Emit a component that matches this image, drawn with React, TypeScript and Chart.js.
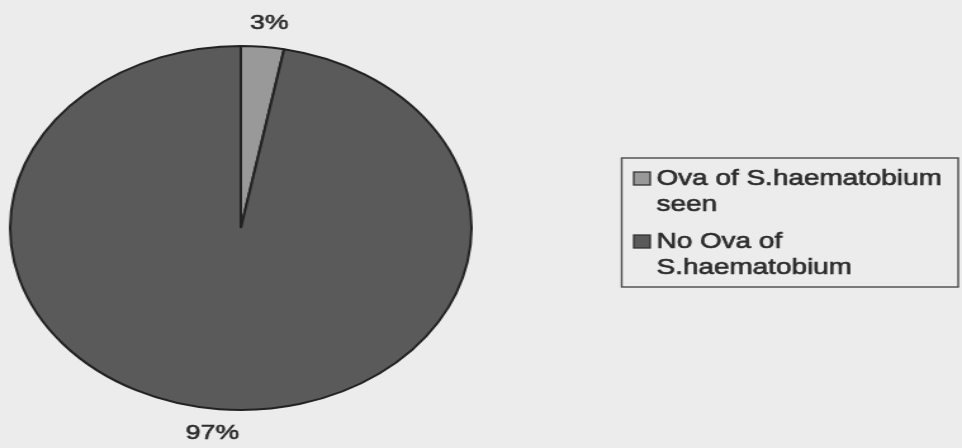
import React, { useEffect, useRef } from "react";
import { Chart, registerables } from "chart.js";

Chart.register(...registerables);

// ---- data ----
const categories = ["Ova of S.haematobium seen", "No Ova of S.haematobium"];
const values = [3, 97];
const percentLabels = ["3%", "97%"];
const sliceColors = ["#999999", "#5a5a5a"];

// The original chart is stretched horizontally; draw unstretched and scale via CSS.
const STRETCH = 1.268;
const OUT_W = 962;
const OUT_H = 448;
const IN_W = Math.round(OUT_W / STRETCH);
const FONT = '"Liberation Sans", Arial, Helvetica, sans-serif';
const TEXT_COLOR = "#2a2a2a";

function heavyText(ctx: CanvasRenderingContext2D, t: string, x: number, y: number) {
  ctx.strokeStyle = TEXT_COLOR;
  ctx.lineWidth = 0.6;
  ctx.strokeText(t, x, y);
  ctx.fillText(t, x, y);
}

const pctLabelPlugin = {
  id: "pctLabels",
  afterDatasetsDraw(chart: any) {
    const ctx = chart.ctx;
    const meta = chart.getDatasetMeta(0);
    ctx.save();
    ctx.font = `21px ${FONT}`;
    ctx.fillStyle = TEXT_COLOR;
    ctx.textAlign = "center";
    ctx.textBaseline = "middle";
    meta.data.forEach((arc: any, i: number) => {
      const p = arc.getProps(["x", "y", "startAngle", "endAngle", "outerRadius"], true);
      const mid = (p.startAngle + p.endAngle) / 2;
      const r = p.outerRadius + 24;
      heavyText(ctx, percentLabels[i], p.x + Math.cos(mid) * r + (i === 0 ? 3 : -3), p.y + Math.sin(mid) * r);
    });
    ctx.restore();
  },
};

function wrap(ctx: CanvasRenderingContext2D, text: string, maxW: number): string[] {
  const words = text.split(" ");
  const lines: string[] = [];
  let cur = "";
  for (const w of words) {
    const t = cur ? cur + " " + w : w;
    if (ctx.measureText(t).width > maxW && cur) {
      lines.push(cur);
      cur = w;
    } else cur = t;
  }
  if (cur) lines.push(cur);
  return lines;
}

const legendPlugin = {
  id: "wrapLegend",
  afterDraw(chart: any) {
    const ctx = chart.ctx as CanvasRenderingContext2D;
    const boxX = 490.5, boxY = 158, boxR = 756, boxB = 287;
    ctx.save();
    ctx.strokeStyle = "#4a4a4a";
    ctx.lineWidth = 1.4;
    ctx.strokeRect(boxX, boxY, boxR - boxX, boxB - boxY);
    ctx.font = `22px ${FONT}`;
    ctx.textBaseline = "alphabetic";
    ctx.textAlign = "left";
    const textX = 518;
    let baseline = 185;
    const labels: string[] = chart.data.labels;
    const colors: string[] = chart.data.datasets[0].backgroundColor;
    labels.forEach((lab, i) => {
      const lines = wrap(ctx, lab, boxR - textX - 6);
      ctx.fillStyle = colors[i];
      ctx.strokeStyle = "#333333";
      ctx.lineWidth = 1.3;
      ctx.fillRect(500, baseline - 13, 13, 13);
      ctx.strokeRect(500, baseline - 13, 13, 13);
      ctx.fillStyle = TEXT_COLOR;
      lines.forEach((ln, j) => {
        heavyText(ctx, ln, textX, baseline + j * 26);
      });
      baseline += (lines.length - 1) * 26 + 37;
    });
    ctx.restore();
  },
};

export default function App() {
  const ref = useRef<HTMLCanvasElement | null>(null);
  useEffect(() => {
    if (!ref.current) return;
    const cx = 190, cy = 228, r = 183;
    const chart = new Chart(ref.current, {
      type: "pie",
      data: {
        labels: categories,
        datasets: [
          {
            data: values,
            backgroundColor: sliceColors,
            borderColor: "#222222",
            borderWidth: 2,
          },
        ],
      },
      options: {
        responsive: false,
        animation: false,
        devicePixelRatio: 1,
        layout: {
          padding: { left: cx - r, top: cy - r, right: IN_W - (cx + r), bottom: OUT_H - (cy + r) },
        },
        plugins: {
          legend: { display: false },
          tooltip: { enabled: false },
        },
      },
      plugins: [pctLabelPlugin, legendPlugin],
    });
    return () => chart.destroy();
  }, []);
  return (
    <div
      style={{
        position: "fixed",
        left: 0,
        top: 0,
        width: OUT_W,
        height: OUT_H,
        background: "#ececec",
        overflow: "hidden",
      }}
    >
      <canvas
        ref={ref}
        width={IN_W}
        height={OUT_H}
        style={{ width: `${OUT_W}px`, height: `${OUT_H}px`, display: "block" }}
      />
    </div>
  );
}
